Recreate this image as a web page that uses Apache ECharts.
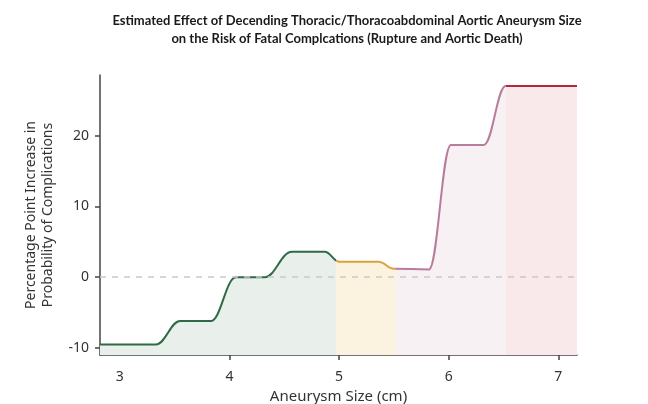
<!DOCTYPE html>
<html>
<head>
<meta charset="utf-8">
<script src="https://cdn.jsdelivr.net/npm/echarts@6/dist/echarts.min.js"></script>
<style>html,body{margin:0;padding:0;background:#fff;}#c{width:648px;height:404px;}</style>
</head>
<body>
<div id="c"></div>
<script>
// Aneurysm size (cm) and percentage-point increase in probability of complications
const sizeCm = [2.82, 3.33, 3.55, 3.83, 4.06, 4.32, 4.57, 4.87, 5.0, 5.36, 5.5, 5.82, 6.02, 6.32, 6.52, 7.17];
const riskIncrease = [-9.5, -9.5, -6.2, -6.2, 0, 0, 3.6, 3.6, 2.2, 2.2, 1.2, 1.1, 18.7, 18.7, 27.05, 27.05];
// Colour zone boundaries (cm)
const zoneBreaks = [4.97, 5.52, 6.52];
const xTicks = [4, 5, 6, 7];
const xLabels = [3, 4, 5, 6, 7];
const yTicks = [-10, 0, 10, 20];

const lineColors = ['#2f6a45', '#d8a23f', '#b97c9b', '#b5293d'];
const fillColors = ['#e9efea', '#fbf3df', '#f7f1f4', '#f9e9eb'];

const data = sizeCm.map((x, i) => [x, riskIncrease[i]]);

function pieces(colors) {
  return [
    {lt: zoneBreaks[0], color: colors[0]},
    {gte: zoneBreaks[0], lt: zoneBreaks[1], color: colors[1]},
    {gte: zoneBreaks[1], lt: zoneBreaks[2], color: colors[2]},
    {gte: zoneBreaks[2], color: colors[3]}
  ];
}

const font = '"Noto Sans", Lato, sans-serif';
const chart = echarts.init(document.getElementById('c'), null, {renderer: 'canvas'});
chart.setOption({
  animation: false,
  backgroundColor: '#fff',
  graphic: [{
    type: 'text', x: 347, y: 12, z: 10,
    style: {
      text: 'Estimated Effect of Decending Thoracic/Thoracoabdominal Aortic Aneurysm Size\non the Risk of Fatal Complcations (Rupture and Aortic Death)',
      align: 'center', textAlign: 'center',
      font: 'bold 13px Lato, sans-serif', fill: '#1a1a1a', lineHeight: 18
    }
  }],
  grid: {left: 100, right: 71, top: 75, bottom: 49, containLabel: false, outerBoundsMode: 'none'},
  xAxis: {
    type: 'value', min: 2.82, max: 7.17,
    name: 'Aneurysm Size (cm)', nameLocation: 'middle', nameGap: 34,
    nameTextStyle: {fontSize: 15, color: '#333', fontFamily: font},
    axisLine: {onZero: false, lineStyle: {color: '#444', width: 1.5}},
    axisTick: {show: true, length: 5, lineStyle: {color: '#444', width: 1.5}, customValues: xTicks},
    axisLabel: {fontSize: 14, color: '#333', fontFamily: font, margin: 15, customValues: xLabels},
    splitLine: {show: false}
  },
  yAxis: {
    type: 'value', min: -11, max: 28.6,
    name: 'Percentage Point Increase in\nProbability of Complications', nameLocation: 'middle', nameGap: 43,
    nameTextStyle: {fontSize: 14, color: '#333', fontFamily: font, lineHeight: 17},
    axisLine: {show: true, onZero: false, lineStyle: {color: '#444', width: 1.5}},
    axisTick: {show: true, length: 5, lineStyle: {color: '#444', width: 1.5}, customValues: yTicks},
    axisLabel: {fontSize: 14, color: '#333', fontFamily: font, margin: 11, customValues: yTicks},
    splitLine: {show: false}
  },
  visualMap: [
    {type: 'piecewise', show: false, dimension: 0, seriesIndex: 0, pieces: pieces(fillColors)},
    {type: 'piecewise', show: false, dimension: 0, seriesIndex: 2, pieces: pieces(lineColors)}
  ],
  series: [
    {
      type: 'line', data: data, smooth: 0.4, smoothMonotone: 'x', symbol: 'none',
      lineStyle: {width: 0, opacity: 0},
      areaStyle: {opacity: 1, origin: 'start'},
      z: 1
    },
    {
      type: 'line', data: [], symbol: 'none', z: 2,
      markLine: {
        silent: true, symbol: 'none', label: {show: false},
        lineStyle: {color: '#c9c9c9', type: [6, 6], width: 1.5},
        data: [{yAxis: 0}]
      }
    },
    {
      type: 'line', data: data, smooth: 0.4, smoothMonotone: 'x', symbol: 'none',
      lineStyle: {width: 2},
      z: 3
    }
  ]
});
</script>
</body>
</html>
